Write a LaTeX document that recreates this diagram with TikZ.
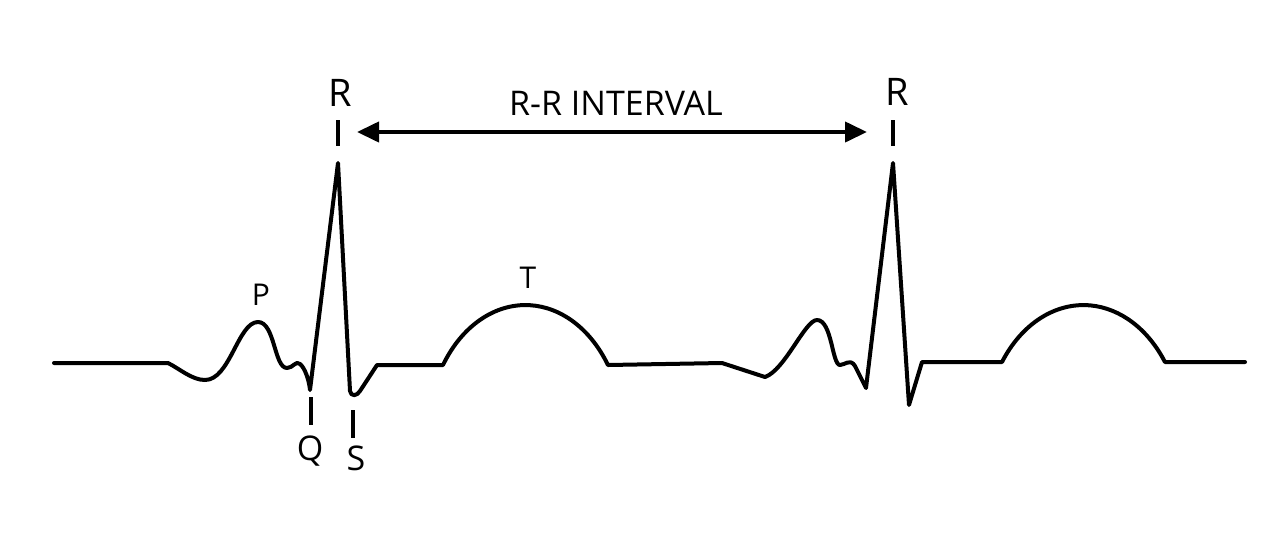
\documentclass[tikz,border=0pt]{standalone}
\usepackage{fontspec}
\setmainfont{Open Sans}
\usetikzlibrary{arrows.meta}
\begin{document}
\begin{tikzpicture}[x=0.5pt,y=-0.5pt,
  trace/.style={line width=2pt,line join=round,line cap=round},
  tick/.style={line width=2pt},
  lbl/.style={inner sep=0pt,font=\fontsize{15}{18}\selectfont},
  biglbl/.style={inner sep=0pt,font=\fontsize{19}{22}\selectfont},
  interval/.style={line width=2pt,{Triangle[length=11pt,width=10pt]}-{Triangle[length=11pt,width=10pt]}}]
\useasboundingbox (0,0) rectangle (1280,537);
% ECG trace
\draw[trace] (54,363) -- (168,363)
  .. controls (180,369) and (192,380) .. (205,380)
  .. controls (230,380) and (238,322) .. (258,322)
  .. controls (275,322) and (274,368) .. (287,368)
  .. controls (293,368) and (296,360) .. (300,364)
  .. controls (305,368) and (309,380) .. (310,390)
  -- (338,163) -- (350,391)
  .. controls (351,397) and (357,396) .. (360,391)
  -- (377,365) -- (443,365)
  arc[start angle=-147.4, end angle=-32.6, x radius=97.9, y radius=130]
  -- (722,363) -- (765,377)
  .. controls (785,370) and (805,320) .. (817,320)
  .. controls (832,320) and (832,365) .. (840,365)
  .. controls (845,365) and (850,358) .. (855,366)
  -- (866,388) -- (893,163) -- (909,405) -- (922,362) -- (1002,362)
  arc[start angle=-145.8, end angle=-34.2, x radius=98.5, y radius=130]
  -- (1245,362);
% labels and ticks
\node[biglbl] (r1) at (340,93) {R};
\node[biglbl] (r2) at (897,92) {R};
\draw[tick] (338,120) -- (338,146);
\draw[tick] (893,120) -- (893,146);
\coordinate (a1) at (357,132);
\coordinate (a2) at (867,132);
\draw[interval] (a1) -- (a2);
\node[inner sep=0pt,font=\fontsize{17}{20}\selectfont] (rr) at (616,103) {R-R INTERVAL};
\node[lbl] (p) at (261,295) {P};
\node[lbl] (t) at (528,278) {T};
\draw[tick] (311,397) -- (311,425);
\draw[tick] (353,410) -- (353,438);
\node[inner sep=0pt,font=\fontsize{17}{20}\selectfont] (q) at (310,451) {Q};
\node[inner sep=0pt,font=\fontsize{17}{20}\selectfont] (s) at (356,458) {S};
\end{tikzpicture}
\end{document}
